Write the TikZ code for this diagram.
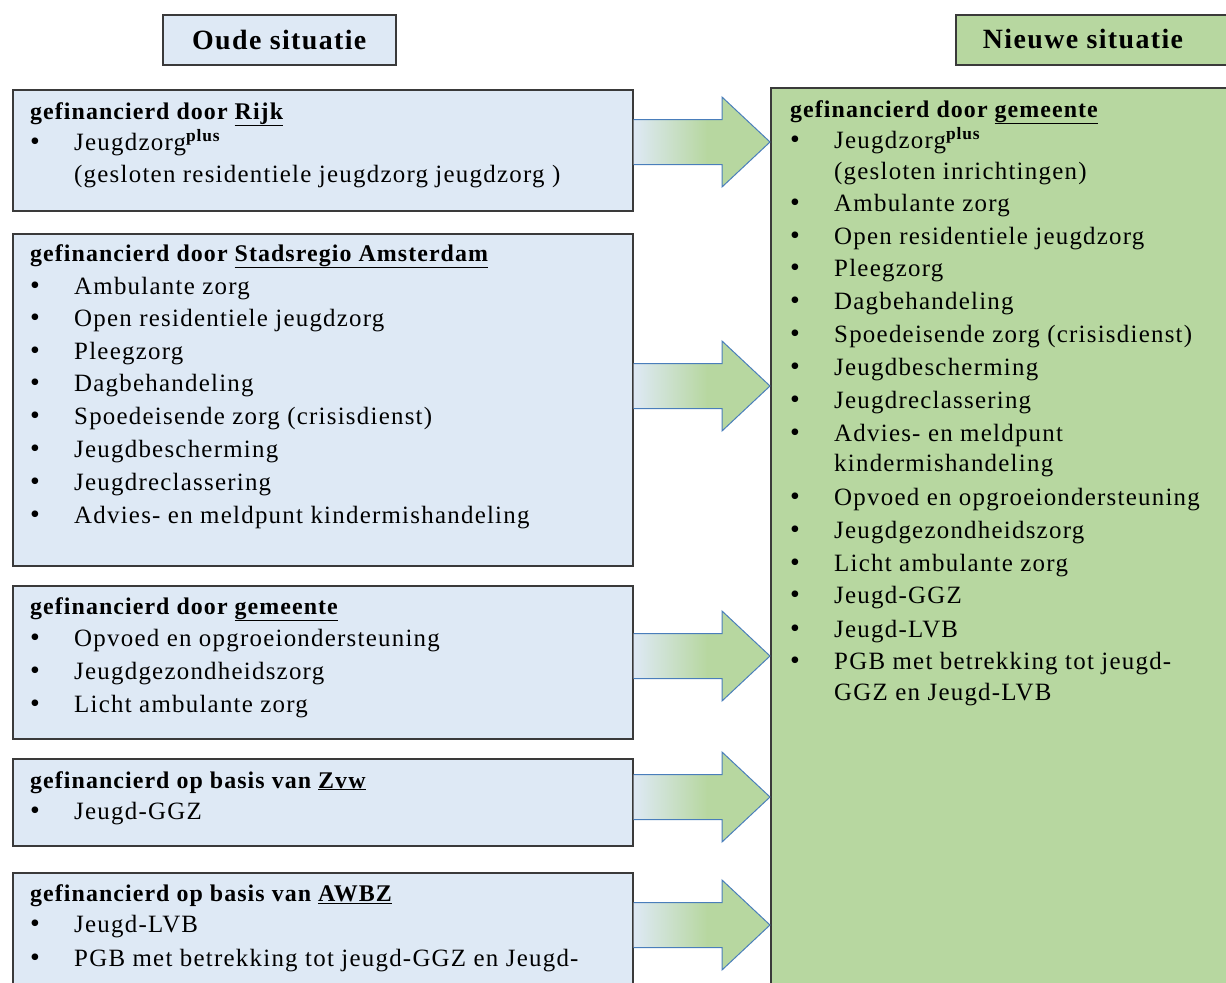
\documentclass[tikz,border=0pt]{standalone}
\usepackage{fontspec}
\setmainfont{Liberation Serif}
\newfontfamily\bodyfont[LetterSpace=5]{Liberation Serif}
\newfontfamily\headfont[LetterSpace=4.5]{Liberation Serif}
\newfontfamily\titlefamily[LetterSpace=5]{Liberation Serif}
\usetikzlibrary{calc}

\definecolor{oldfill}{HTML}{DEE9F5}
\definecolor{newfill}{HTML}{B7D7A0}
\definecolor{boxline}{HTML}{3A3A3A}
\definecolor{arrowline}{HTML}{4A7EBB}

% horizontal fade from the old (blue) colour into the new (green) one
\pgfdeclarehorizontalshading{arrowshade}{100bp}{color(0bp)=(oldfill); color(25bp)=(oldfill); color(52bp)=(newfill); color(100bp)=(newfill)}

\newcommand\itemfont{\bodyfont\fontsize{25}{29}\selectfont}
\newcommand\hdrfont{\headfont\bfseries\fontsize{24}{28}\selectfont}
\newcommand\titlefont{\titlefamily\bfseries\fontsize{28}{32}\selectfont}
\newcommand\plus{\textsuperscript{\bfseries plus}}

\begin{document}
\begin{tikzpicture}[x=1bp,y=-1bp,
  box/.style={draw=boxline, line width=1.5bp, inner sep=0pt, anchor=north west},
  oldbox/.style={box, fill=oldfill},
  newbox/.style={box, fill=newfill},
  txt/.style={anchor=base west, inner sep=0pt, font=\itemfont},
  hdr/.style={anchor=base west, inner sep=0pt, font=\hdrfont},
  bul/.style={anchor=base, inner sep=0pt, font=\bodyfont\fontsize{28}{28}\selectfont},
  ttl/.style={anchor=center, inner sep=0pt, font=\titlefont},
  arrowedge/.style={draw=arrowline, line width=1bp, line join=miter}]
\useasboundingbox (0,0) rectangle (1226,983);
\clip (0,0) rectangle (1226,983);

% column titles
\node[oldbox, minimum width=233bp, minimum height=50bp] (oudebox) at (162,14) {};
\node[ttl] (oude) at (oudebox.center) {Oude situatie};
\node[newbox, minimum width=300bp, minimum height=50bp] (nieuwebox) at (955,14) {};
\node[ttl] (nieuwe) at (1083,39) {Nieuwe situatie};

% old situation: one box per funding source
\node[oldbox, minimum width=620bp, minimum height=121bp] (rijk) at (12,89) {};
\node[oldbox, minimum width=620bp, minimum height=332bp] (stad) at (12,233) {};
\node[oldbox, minimum width=620bp, minimum height=153bp] (gem) at (12,585) {};
\node[oldbox, minimum width=620bp, minimum height=87bp] (zvw) at (12,758) {};
\node[oldbox, minimum width=620bp, minimum height=160bp] (awbz) at (12,872) {};

% new situation: everything funded by the municipality
\node[newbox, line width=2bp, minimum width=500bp, minimum height=960bp] (nieuw) at (770,87) {};

% block arrows from each old box into the new box
\foreach \c/\src in {142/rijk, 386/stad, 656/gem, 797/zvw, 925/awbz}{
  \coordinate (s) at (\src.east |- 0,\c);
  \coordinate (t) at (nieuw.west |- 0,\c);
  \shade[shading=arrowshade]
    ($(s)+(0,-22.5)$) -- ($(t)+(-48,-22.5)$) -- ($(t)+(-48,-45)$) -- (t)
    -- ($(t)+(-48,45)$) -- ($(t)+(-48,22.5)$) -- ($(s)+(0,22.5)$) -- cycle;
  \draw[arrowedge]
    ($(s)+(0,-22.5)$) -- ($(t)+(-48,-22.5)$) -- ($(t)+(-48,-45)$) -- (t)
    -- ($(t)+(-48,45)$) -- ($(t)+(-48,22.5)$) -- ($(s)+(0,22.5)$);
}

% --- old: Rijk
\node[hdr] (rijk-h) at (30,119) {gefinancierd door \underline{Rijk}};
\node[bul] (rijk-b1) at (35,150) {•};
\node[txt] (rijk-1) at (74,150) {Jeugdzorg\plus};
\node[txt] (rijk-2) at (74,182) {(gesloten residentiele jeugdzorg jeugdzorg )};

% --- old: Stadsregio Amsterdam
\node[hdr] (stad-h) at (30,261) {gefinancierd door \underline{Stadsregio Amsterdam}};
\foreach \y/\t [count=\i] in {288/Ambulante zorg, 320/Open residentiele jeugdzorg, 353/Pleegzorg,
  385/Dagbehandeling, 418/Spoedeisende zorg (crisisdienst), 451/Jeugdbescherming,
  484/Jeugdreclassering, 517/Advies- en meldpunt kindermishandeling}{
  \node[bul] (stad-b\i) at (35,\y+6) {•};
  \node[txt] (stad-\i) at (74,\y+6) {\t};
}

% --- old: gemeente
\node[hdr] (gem-h) at (30,614) {gefinancierd door \underline{gemeente}};
\foreach \y/\t [count=\i] in {640/Opvoed en opgroeiondersteuning, 673/Jeugdgezondheidszorg, 706/Licht ambulante zorg}{
  \node[bul] (gem-b\i) at (35,\y+6) {•};
  \node[txt] (gem-\i) at (74,\y+6) {\t};
}

% --- old: Zvw
\node[hdr] (zvw-h) at (30,788) {gefinancierd op basis van \underline{Zvw}};
\node[bul] (zvw-b1) at (35,819) {•};
\node[txt] (zvw-1) at (74,819) {Jeugd-GGZ};

% --- old: AWBZ
\node[hdr] (awbz-h) at (30,901) {gefinancierd op basis van \underline{AWBZ}};
\node[bul] (awbz-b1) at (35,932) {•};
\node[txt] (awbz-1) at (74,932) {Jeugd-LVB};
\node[bul] (awbz-b2) at (35,966) {•};
\node[txt] (awbz-2) at (74,966) {PGB met betrekking tot jeugd-GGZ en Jeugd-};

% --- new: gemeente
\node[hdr] (new-h) at (790,117) {gefinancierd door \underline{gemeente}};
\node[bul] (new-b0) at (795,148) {•};
\node[txt] (new-0) at (834,148) {Jeugdzorg\plus};
\node[txt] (new-0b) at (834,179) {(gesloten inrichtingen)};
\foreach \y/\t [count=\i] in {205/Ambulante zorg, 238/Open residentiele jeugdzorg, 270/Pleegzorg,
  303/Dagbehandeling, 336/Spoedeisende zorg (crisisdienst), 369/Jeugdbescherming,
  402/Jeugdreclassering, 435/Advies- en meldpunt, 499/Opvoed en opgroeiondersteuning,
  532/Jeugdgezondheidszorg, 565/Licht ambulante zorg, 597/Jeugd-GGZ, 631/Jeugd-LVB,
  663/PGB met betrekking tot jeugd-}{
  \node[bul] (new-b\i) at (795,\y+6) {•};
  \node[txt] (new-\i) at (834,\y+6) {\t};
}
\node[txt] (new-8b) at (834,471) {kindermishandeling};
\node[txt] (new-14b) at (834,700) {GGZ en Jeugd-LVB};
\end{tikzpicture}
\end{document}
